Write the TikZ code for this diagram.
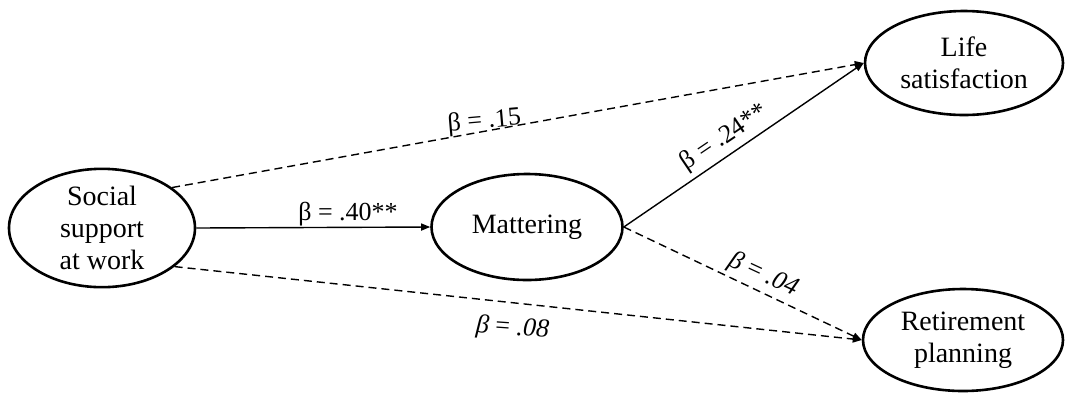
\documentclass[tikz,border=0pt]{standalone}
\usepackage{fontspec}
\setmainfont{Liberation Serif}
\usetikzlibrary{shapes.geometric,arrows.meta}
\tikzset{
  latent/.style={ellipse,draw,line width=2.6pt,inner sep=0pt,align=center,
    font=\fontsize{28}{32}\selectfont},
  path solid/.style={line width=1.4pt,-{Triangle[length=9pt,width=7pt]}},
  path dash/.style={line width=1.4pt,dash pattern=on 8pt off 5pt,-{Triangle[length=9pt,width=7pt]}},
  coef/.style={font=\fontsize{26}{30}\selectfont,inner sep=0pt,anchor=base}
}
\begin{document}
\begin{tikzpicture}[x=1pt,y=-1pt]
\useasboundingbox (0,0) rectangle (1067,392);
\node[latent,minimum width=186pt,minimum height=100pt] (soc) at (102,228) {Social\\support\\at work};
\node[latent,minimum width=191pt,minimum height=106pt] (mat) at (527,227) {Mattering};
\node[latent,minimum width=198pt,minimum height=104pt] (life) at (964,63) {Life\\satisfaction};
\node[latent,minimum width=200pt,minimum height=102pt] (ret) at (963,340) {Retirement\\planning};
\draw[path solid] (soc.east) -- (mat.west);
\draw[path dash] (soc.30) -- (life.west);
\draw[path dash] (soc.-28) -- (ret.west);
\draw[path solid] (mat.east) -- (life.west);
\draw[path dash] (mat.east) -- (ret.west);
\node[coef] (l40) at (348,220) {β = .40**};
\node[coef,rotate=5] (l15) at (485,128) {β = .15};
\node[coef,rotate=34] (l24) at (728,143) {β = .24**};
\node[coef,rotate=-25] (l04) at (761,281) {\textit{β} = \textit{.04}};
\node[coef,rotate=-4] (l08) at (512,335) {\textit{β} = \textit{.08}};
\end{tikzpicture}
\end{document}
